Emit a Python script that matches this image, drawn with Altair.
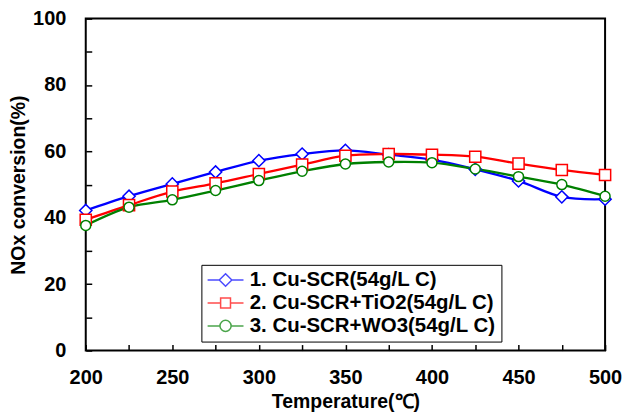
import altair as alt
import pandas as pd

temps = [200, 225, 250, 275, 300, 325, 350, 375, 400, 425, 450, 475, 500]
cu_scr = [42.2, 46.5, 50.2, 53.8, 57.2, 59.2, 60.3, 59.0, 57.5, 54.6, 51.1, 46.3, 45.6]
cu_tio2 = [39.4, 43.8, 47.9, 50.4, 53.2, 56.0, 58.7, 59.2, 59.0, 58.4, 56.3, 54.4, 52.9]
cu_wo3 = [37.7, 43.2, 45.4, 48.2, 51.2, 54.0, 56.2, 56.8, 56.6, 54.7, 52.4, 50.0, 46.5]

series_names = ["1. Cu-SCR(54g/L C)", "2. Cu-SCR+TiO2(54g/L C)", "3. Cu-SCR+WO3(54g/L C)"]
colors = ["#0000FF", "#FF0000", "#008000"]
marker_shapes = ["diamond", "square", "circle"]
marker_sizes = [150, 100, 130]
legend_paths = [
    "M-2,0H-0.7M0.7,0H2M0,-0.7L0.7,0L0,0.7L-0.7,0Z",
    "M-2,0H-0.55M0.55,0H2M-0.55,-0.55H0.55V0.55H-0.55Z",
    "M-2,0H-0.62M0.62,0H2M0.62,0A0.62,0.62,0,1,1,-0.62,0A0.62,0.62,0,1,1,0.62,0Z",
]

rows = []
for name, vals in zip(series_names, [cu_scr, cu_tio2, cu_wo3]):
    for t, v in zip(temps, vals):
        rows.append({"temp": t, "conv": v, "series": name})
df = pd.DataFrame(rows)

FONT = "Liberation Sans"

x = alt.X(
    "temp:Q",
    scale=alt.Scale(domain=[200, 500], nice=False, zero=False),
    axis=alt.Axis(
        title="Temperature(℃)",
        values=list(range(200, 501, 25)),
        labelExpr="datum.value % 50 == 0 ? datum.label : ''",
        offset=-6,
        labelPadding=17,
        titlePadding=5,
        labelFlush=False,
        labelOverlap=False,
    ),
)
y = alt.Y(
    "conv:Q",
    scale=alt.Scale(domain=[0, 100], nice=False),
    axis=alt.Axis(
        title="NOx conversion(%)",
        values=list(range(0, 101, 10)),
        labelExpr="datum.value % 20 == 0 ? datum.label : ''",
        offset=-6,
        labelPadding=20,
        titlePadding=4,
        labelFlush=False,
        labelOverlap=False,
    ),
)

color_scale = alt.Scale(domain=series_names, range=colors)

lines = alt.Chart(df).mark_line(interpolate="cardinal", strokeWidth=2.3).encode(
    x=x, y=y, color=alt.Color("series:N", scale=color_scale, legend=None),
    detail="series:N",
)

points = alt.Chart(df).mark_point(fill="white", filled=False, strokeWidth=1.5, opacity=1).encode(
    x=x, y=y,
    color=alt.Color("series:N", scale=color_scale, legend=None),
    shape=alt.Shape("series:N", scale=alt.Scale(domain=series_names, range=marker_shapes), legend=None),
    size=alt.Size("series:N", scale=alt.Scale(domain=series_names, range=marker_sizes), legend=None),
)

leg = alt.Legend(
    orient="none", legendX=116, legendY=247, title=None,
    labelFont=FONT, labelFontSize=20.5, labelFontWeight="bold", labelColor="black",
    labelLimit=400, symbolSize=324, symbolStrokeWidth=1.5, symbolOffset=9,
    labelOffset=14, rowPadding=2, padding=5, strokeColor="black", fillColor="white",
)

legend_layer = alt.Chart(df).transform_filter("false").mark_point(filled=False, strokeWidth=1.5).encode(
    x=x, y=y,
    color=alt.Color("series:N", scale=color_scale, legend=leg),
    shape=alt.Shape("series:N", scale=alt.Scale(domain=series_names, range=legend_paths), legend=leg),
)

chart = alt.layer(lines, points, legend_layer).resolve_scale(
    color="independent", shape="independent"
).properties(
    width=521, height=333,
    autosize=alt.AutoSizeParams(type="none"),
    padding={"left": 78, "top": 10, "right": 25, "bottom": 62},
    background="white",
).configure_view(
    stroke="black", strokeWidth=2
).configure_axis(
    domain=False, grid=False, ticks=True, tickSize=6, tickWidth=1.5, tickColor="black",
    labelFont=FONT, labelFontSize=20, labelFontWeight="bold", labelColor="black",
    titleFont=FONT, titleFontSize=19.5, titleFontWeight="bold", titleColor="black",
)

chart.save("out.html", embed_options={"renderer": "svg", "actions": False})
